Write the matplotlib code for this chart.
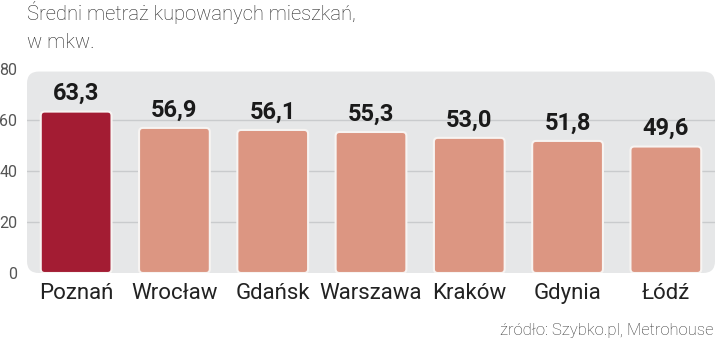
import matplotlib
matplotlib.use("Agg")
from matplotlib import pyplot as plt
from matplotlib.patches import FancyBboxPatch
import numpy as np

cities = ["Poznań", "Wrocław", "Gdańsk", "Warszawa", "Kraków", "Gdynia", "Łódź"]
values = [63.3, 56.9, 56.1, 55.3, 53.0, 51.8, 49.6]
yticks = [0, 20, 40, 60, 80]

plt.rcParams['font.family'] = ['Roboto', 'DejaVu Sans']

fig = plt.figure(figsize=(7.2, 3.42), dpi=100)
ax = fig.add_axes([27/720, 1-273/342, 688/720, 204/342])
ax.set_xlim(-0.5, len(cities)-0.5)
ax.set_ylim(0, 80)

# gray rounded panel
aspect = (80/204)/(7/688)
panel = FancyBboxPatch((-0.5, 0), len(cities), 79, boxstyle="round,pad=0,rounding_size=0.12",
                       mutation_aspect=aspect, facecolor="#e6e7e8", edgecolor="none", zorder=0)
ax.add_patch(panel)
for t in yticks[1:-1]:
    ax.plot([-0.5, len(cities)-0.5], [t, t], color="#c9cbcd", lw=1, zorder=1)

x = np.arange(len(cities))
colors = ["#a31c33"] + ["#dc9682"]*(len(cities)-1)
bars = ax.bar(x, values, width=0.72, color=colors)
for b, c in zip(bars, colors):
    bx, by, bw, bh = b.get_x(), b.get_y(), b.get_width(), b.get_height()
    b.remove()
    ax.add_patch(FancyBboxPatch((bx, by), bw, bh, boxstyle="round,pad=0,rounding_size=0.04",
                                mutation_aspect=aspect, facecolor=c, edgecolor="#f7f4f2",
                                linewidth=1.5, zorder=2))

for xi, v in zip(x, values):
    ax.text(xi, v+2.5, f"{v:.1f}".replace(".", ","), ha="center", va="bottom",
            fontsize=17, fontweight="bold", color="#1a1a1a", zorder=3)

ax.set_yticks(yticks)
ax.set_yticklabels([str(t) for t in yticks], fontsize=11.5, color="#555555")
ax.set_xticks(x)
ax.set_xticklabels(cities, fontsize=16, color="#222222")
ax.tick_params(axis="y", length=0, pad=7)
ax.tick_params(axis="x", length=0, pad=7)
for s in ax.spines.values():
    s.set_visible(False)
ax.patch.set_visible(False)

fig.text(27/720, 1-13/342, "Średni metraż kupowanych mieszkań,", fontsize=14.5,
         color="#222222", va="center", ha="left", fontweight="light")
fig.text(27/720, 1-42/342, "w mkw.", fontsize=14.5, color="#222222", va="center",
         ha="left", fontweight="light")
fig.text(713/720, 1-330/342, "źródło: Szybko.pl, Metrohouse", fontsize=12,
         color="#333333", va="center", ha="right", fontweight="light")

fig.savefig("out.png", dpi=100)
